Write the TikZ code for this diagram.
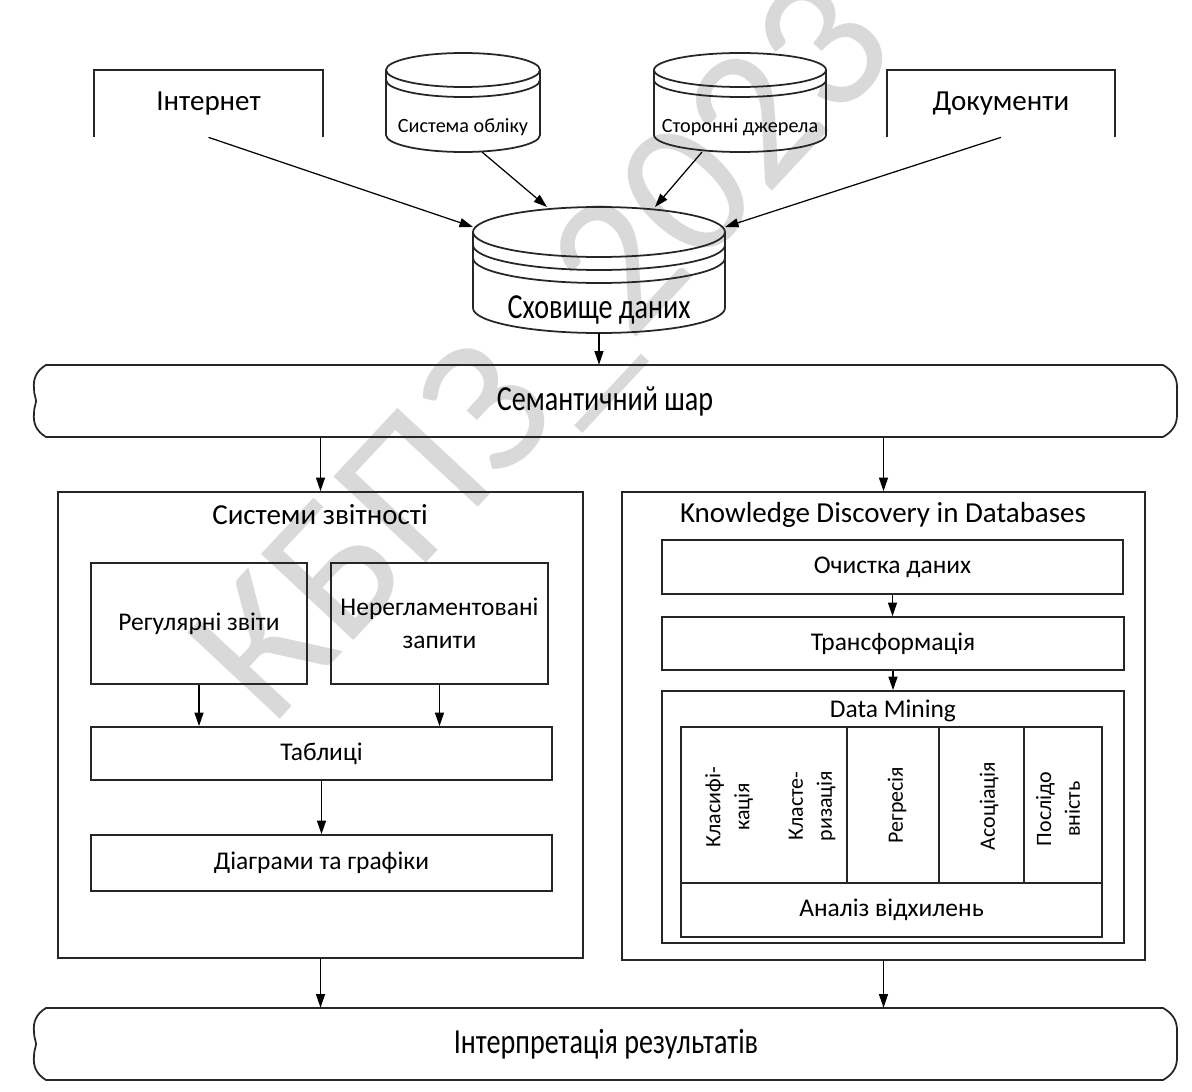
\documentclass[tikz,border=0pt]{standalone}
\usepackage{fontspec}
\setmainfont{Carlito}
\newfontfamily\narrowfont[FakeStretch=0.8]{Carlito}
\usetikzlibrary{arrows.meta,fit,calc}

\newcommand\cylshape[6]{%
  \draw[line] (#1,#3) ellipse [x radius={#2*0.02cm}, y radius={#4*0.02cm}];
  \foreach \o in {#6}{%
    \draw[line] ({#1-#2},{#3+\o}) .. controls ({#1-#2},{#3+\o+0.5523*#4}) and ({#1-0.5523*#2},{#3+\o+#4}) .. (#1,{#3+\o+#4}) .. controls ({#1+0.5523*#2},{#3+\o+#4}) and ({#1+#2},{#3+\o+0.5523*#4}) .. ({#1+#2},{#3+\o});
  }
  \draw[line] ({#1-#2},#3) -- ({#1-#2},#5) .. controls ({#1-#2},{#5+0.5523*#4}) and ({#1-0.5523*#2},{#5+#4}) .. (#1,{#5+#4}) .. controls ({#1+0.5523*#2},{#5+#4}) and ({#1+#2},{#5+0.5523*#4}) .. ({#1+#2},#5) -- ({#1+#2},#3);
}

\newcommand\wavybar[3]{%
  \draw[line] (46,#1) -- (1163,#1) .. controls (1172,{#1+5}) and (1177,{#1+12}) .. (1177,{#1+22}) -- (1177,{#2-22}) .. controls (1177,{#2-12}) and (1172,{#2-5}) .. (1163,#2) -- (46,#2) .. controls (36,{#2-6}) and (33,{#2-14}) .. (34,{#2-24}) .. controls (34,{#2-30}) and (36,{#2-33}) .. (36,{(#1+#2)/2}) .. controls (36,{#1+33}) and (34,{#1+30}) .. (34,{#1+24}) .. controls (33,{#1+14}) and (36,{#1+6}) .. (46,#1) -- cycle;
  \node[inner sep=0pt, fit={(34,#1)(1177,#2)}] (#3) {};
}

\begin{document}
\begin{tikzpicture}[x=0.02cm,y=-0.02cm,
  line/.style={draw=black!85, line width=1pt},
  box/.style={line, rectangle, inner sep=0pt, align=center, font=\fontsize{14.5}{18}\selectfont},
  frame/.style={inner sep=0pt},
  arr/.style={draw=black, line width=0.7pt, -{Triangle[length=0.27cm,width=0.18cm]}},
  ttl/.style={inner sep=0pt, font=\fontsize{16.5}{20}\selectfont},
  inner/.style={inner sep=0pt, align=center, font=\fontsize{14.5}{18}\selectfont},
  rot/.style={inner sep=0pt, align=center, rotate=90, font=\fontsize{12.5}{16.5}\selectfont},
  cyltext/.style={inner sep=0pt, font=\fontsize{11.5}{14}\selectfont},
  narrow/.style={inner sep=0pt, font={\narrowfont\fontsize{20}{24}\selectfont}},
  wmark/.style={inner sep=0pt, text=black!15, rotate=47, font=\fontsize{112}{116}\selectfont},
]
\useasboundingbox (0,0) rectangle (1192,1091);

% watermark
\node[wmark] (wm) at (550,356) {КБПЗ\_2023};

% top sources
\node[frame, fit={(94,70)(323,137)}] (internet) {};
\draw[line] (internet.south west) |- (internet.north east) -- (internet.south east);
\node[ttl] (internettxt) at (internet.center) {Інтернет};

\node[frame, fit={(887,70)(1115,137)}] (docs) {};
\draw[line] (docs.south west) |- (docs.north east) -- (docs.south east);
\node[ttl] (docstxt) at (docs.center) {Документи};

\cylshape{463}{77}{70}{17}{135}{10}
\node[frame, fit={(386,53)(540,152)}] (sysobl) {};
\node[cyltext] (sysobltxt) at (463,127) {Система обліку};
\coordinate (sysobl-b) at (482,152);

\cylshape{740}{86}{70}{17}{135}{10}
\node[frame, fit={(654,53)(826,152)}] (ext) {};
\node[cyltext] (exttxt) at (740,127) {Сторонні джерела};
\coordinate (ext-b) at (702,152);

% warehouse
\cylshape{599}{126}{232}{25}{308}{13,26}
\node[frame, fit={(473,207)(725,333)}] (stor) {};
\node[narrow] (stortxt) at (599,310) {Сховище даних};
\coordinate (stor-w) at (473,227);
\coordinate (stor-e) at (725,227);
\coordinate (stor-n1) at (547,207);
\coordinate (stor-n2) at (655,207);

% semantic layer
\wavybar{365}{437}{sem}
\node[narrow] (semtxt) at (605,401) {Семантичний шар};

% reporting systems
\node[box, fit={(58,492)(583,958)}] (rep) {};
\node[ttl] (reptxt) at (320,515) {Системи звітності};
\node[box, fit={(91,563)(307,684)}] (reg) {};
\node[inner] (regtxt) at (reg.center) {Регулярні звіти};
\node[box, fit={(331,563)(548,684)}] (adhoc) {};
\node[inner, font=\fontsize{14.5}{18.5}\selectfont] (adhoctxt) at (adhoc.center) {Нерегламентовані\\запити};
\node[box, fit={(91,727)(552,780)}] (tab) {};
\node[inner] (tabtxt) at (tab.center) {Таблиці};
\node[box, fit={(91,835)(552,891)}] (charts) {};
\node[inner] (chartstxt) at (charts.center) {Діаграми та графіки};

% KDD
\node[box, fit={(622,492)(1145,960)}] (kdd) {};
\node[ttl] (kddtxt) at (883,515) {Knowledge Discovery in Databases};
\node[box, fit={(662,540)(1123,594)}] (clean) {};
\node[inner] (cleantxt) at (clean.center) {Очистка даних};
\node[box, fit={(662,617)(1124,670)}] (trans) {};
\node[inner] (transtxt) at (trans.center) {Трансформація};
\node[box, fit={(662,691)(1124,943)}] (dm) {};
\node[inner] (dmtxt) at (893,711) {Data Mining};
\node[box, fit={(681,727)(847,883)}] (cellA) {};
\node[box, fit={(847,727)(939,883)}] (cellB) {};
\node[box, fit={(939,727)(1024,883)}] (cellC) {};
\node[box, fit={(1024,727)(1102,883)}] (cellD) {};
\node[box, fit={(681,883)(1102,937)}] (anal) {};
\node[inner] (analtxt) at (anal.center) {Аналіз відхилень};
\node[rot] (clsf) at (729,807) {Класифі-\\кація};
\node[rot] (clst) at (812,806) {Класте-\\ризація};
\node[rot] (regr) at (897,805) {Регресія};
\node[rot] (asoc) at (989,806) {Асоціація};
\node[rot] (posl) at (1058,809) {Послідо\\вність};

% interpretation
\wavybar{1008}{1080}{interp}
\node[narrow] (interptxt) at (606,1044) {Інтерпретація результатів};

% connectors
\draw[arr] (internet.south) -- (stor-w);
\draw[arr] (sysobl-b) -- (stor-n1);
\draw[arr] (ext-b) -- (stor-n2);
\draw[arr] (docs.south) -- (stor-e);
\draw[arr] (stor.south) -- (stor.south |- sem.north);
\draw[arr] (rep.north |- sem.south) -- (rep.north);
\draw[arr] (kdd.north |- sem.south) -- (kdd.north);
\draw[arr] (reg.south) -- (reg.south |- tab.north);
\draw[arr] (adhoc.south) -- (adhoc.south |- tab.north);
\draw[arr] (tab.south) -- (charts.north);
\draw[arr] (clean.south) -- (clean.south |- trans.north);
\draw[arr] (trans.south) -- (trans.south |- dm.north);
\draw[arr] (rep.south) -- (rep.south |- interp.north);
\draw[arr] (kdd.south) -- (kdd.south |- interp.north);
\end{tikzpicture}
\end{document}
